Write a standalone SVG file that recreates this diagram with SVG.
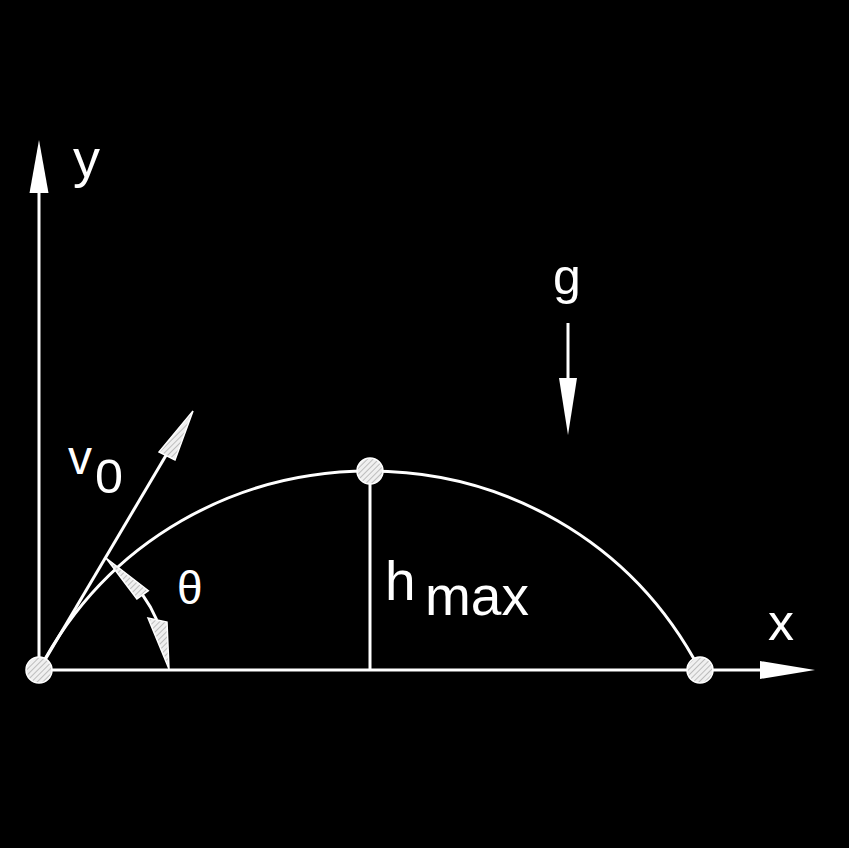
<svg xmlns="http://www.w3.org/2000/svg" width="849" height="848" viewBox="0 0 849 848">
<defs>
<pattern id="hatch" patternUnits="userSpaceOnUse" width="4" height="4" patternTransform="rotate(45)">
<rect width="4" height="4" fill="#f0f0f0"/>
<line x1="0" y1="0" x2="0" y2="4" stroke="#8a8a8a" stroke-width="1"/>
</pattern>
<style>
.ln{stroke:#fff;stroke-width:3;fill:none}
.solid{fill:#fff;stroke:none}
.hat{fill:url(#hatch);stroke:#fff;stroke-width:1.5}
.t{fill:#fff;font-family:"Liberation Sans",Arial,sans-serif}
</style>
</defs>
<rect width="849" height="848" fill="#000"/>
<g id="connectors">
<line class="ln" x1="39" y1="670" x2="39" y2="190"/>
<polygon class="solid" points="39,140 29.5,193 48.5,193"/>
<line class="ln" x1="39" y1="670" x2="765" y2="670"/>
<polygon class="solid" points="815,670 760,661 760,679"/>
<line class="ln" x1="568" y1="323" x2="568" y2="382"/>
<polygon class="solid" points="568,435 559,378 577,378"/>
<path class="ln" d="M39,670 C178.5,404.7 560.5,404.7 700,670" stroke-width="4"/>
<line class="ln" x1="370" y1="471" x2="370" y2="670"/>
<line class="ln" x1="39" y1="670" x2="168" y2="452" stroke-width="2.5"/>
<polygon class="hat" points="193,411 159,452 175,460"/>
<path class="ln" d="M142.6,594.8 A128,128 0 0 1 156.8,620" stroke-width="2.5"/>
<polygon class="hat" points="106,558 148.3,590.7 136.9,598.9"/>
<polygon class="hat" points="169,669 148,618 167,622"/>
</g>
<g id="origin"><circle class="hat" cx="39" cy="670" r="13"/></g>
<g id="apex"><circle class="hat" cx="370" cy="471" r="13"/></g>
<g id="landing"><circle class="hat" cx="700" cy="670" r="13"/></g>
<g id="labels">
<text class="t" x="68" y="474" font-size="48">v</text>
<text class="t" x="95" y="493" font-size="49" textLength="28" lengthAdjust="spacingAndGlyphs">0</text>
<text class="t" x="73" y="177" font-size="54">y</text>
<text class="t" x="768" y="640" font-size="52">x</text>
<text class="t" x="553" y="294" font-size="50">g</text>
<text class="t" x="177" y="604" font-size="46">θ</text>
<text class="t" x="385" y="600" font-size="55">h</text>
<text class="t" x="425" y="615" font-size="55">max</text>
</g>
</svg>
